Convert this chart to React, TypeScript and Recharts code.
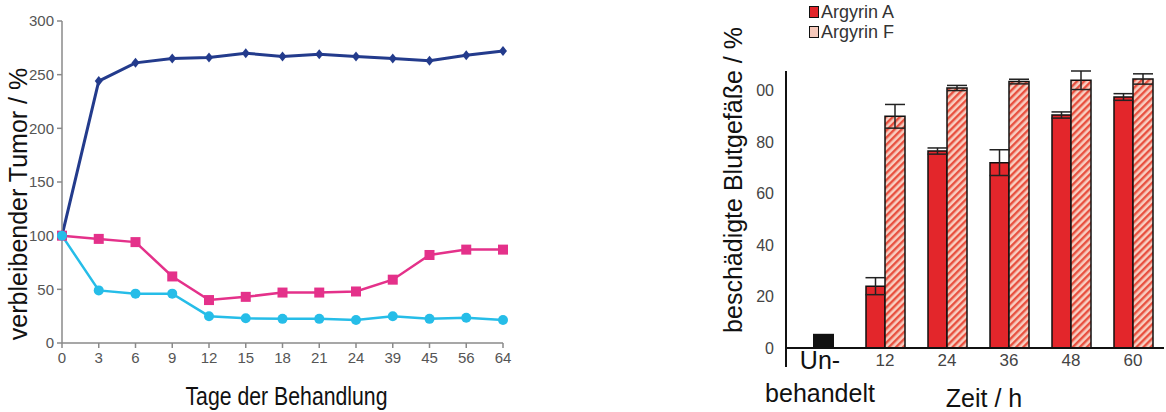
import React from 'react'
import {
  LineChart, Line, BarChart, Bar, XAxis, YAxis, ErrorBar, ReferenceLine, Legend,
} from 'recharts'

// --- left chart: Tumorgröße ---
const days = ['0', '3', '6', '9', '12', '15', '18', '21', '24', '39', '45', '56', '64']
const navySeries = [100, 244, 261, 265, 266, 270, 267, 269, 267, 265, 263, 268, 272]
const pinkSeries = [100, 97, 94, 62, 40, 43, 47, 47, 48, 59, 82, 87, 87]
const cyanSeries = [100, 49, 46, 46, 25, 23, 22.5, 22.5, 21.5, 25, 22.5, 23.5, 21.5]
const leftTicks = [0, 50, 100, 150, 200, 250, 300]

// --- right chart: Blutgefäße ---
const hours = ['Unbehandelt', '12', '24', '36', '48', '60']
const untreated = [5.5, null, null, null, null, null]
const argyrinA = [null, 24, 76.5, 72, 90.5, 97.5]
const argyrinAErr = [null, 3.3, 1.2, 5, 1.2, 1.3]
const argyrinF = [null, 90, 101, 103.5, 104, 104.5]
const argyrinFErr = [null, 4.6, 1, 0.9, 3.6, 2]
const rightTicks = [0, 20, 40, 60, 80, 100]
const rightTickLabels = ['0', '20', '40', '60', '80', '00']

const lineData = days.map((d, i) => ({
  day: d, navy: navySeries[i], pink: pinkSeries[i], cyan: cyanSeries[i],
}))

const barData = hours.map((h, i) => ({
  h, u: untreated[i], a: argyrinA[i], aErr: argyrinAErr[i], f: argyrinF[i], fErr: argyrinFErr[i],
}))

const NARROW = '"Liberation Sans Narrow", "Liberation Sans", Arial, sans-serif'
const SANS = '"Liberation Sans", Arial, sans-serif'

const NAVY = '#233b8c'
const PINK = '#e4318a'
const CYAN = '#26bde8'
const RED = '#e3262b'

const Diamond = (p: any) => {
  const { cx, cy } = p
  if (cx == null || cy == null) return null
  return <path d={`M${cx},${cy - 5}L${cx + 4},${cy}L${cx},${cy + 5}L${cx - 4},${cy}Z`} fill={NAVY} />
}
const Square = (p: any) => {
  const { cx, cy } = p
  if (cx == null || cy == null) return null
  return <rect x={cx - 5} y={cy - 5} width={10} height={10} fill={PINK} />
}
const Circle = (p: any) => {
  const { cx, cy } = p
  if (cx == null || cy == null) return null
  return <circle cx={cx} cy={cy} r={5} fill={CYAN} />
}

const HourTick = (p: any) => {
  const { x, y, payload } = p
  if (payload.value === 'Unbehandelt') {
    return (
      <g>
        <text x={x - 3} y={y - 4} textAnchor="middle" fontFamily={SANS} fontSize={25} fill="#111">Un-</text>
        <text x={x - 3} y={y + 29} textAnchor="middle" fontFamily={SANS} fontSize={25} fill="#111">behandelt</text>
      </g>
    )
  }
  return (
    <text x={x} y={y - 7} textAnchor="middle" fontFamily={SANS} fontSize={17} fill="#444">{payload.value}</text>
  )
}

const BarLegend = () => (
  <div style={{ fontFamily: SANS, fontSize: 18, color: '#333', lineHeight: '20px' }}>
    <div style={{ display: 'flex', alignItems: 'center' }}>
      <span style={{ width: 8, height: 10, background: RED, border: '1.5px solid #111', marginRight: 2 }} />
      Argyrin A
    </div>
    <div style={{ display: 'flex', alignItems: 'center' }}>
      <span style={{ width: 8, height: 10, background: '#f6c9bb', border: '1.5px solid #111', marginRight: 2 }} />
      Argyrin F
    </div>
  </div>
)

export default function App() {
  return (
    <div style={{ position: 'absolute', left: 0, top: 0, width: 1166, height: 412, background: '#fff' }}>
      <div style={{ position: 'absolute', left: 0, top: 0 }}>
        <LineChart width={640} height={412} data={lineData} margin={{ top: 21, right: 137, bottom: 39, left: 22 }}>
          <XAxis
            dataKey="day"
            height={30}
            stroke="#8a8a8a"
            strokeWidth={1.5}
            tickSize={5}
            tick={{ fontFamily: NARROW, fontSize: 15, fill: '#555' }}
            tickMargin={4}
            label={{
              content: (lp: any) => {
                const vb = lp.viewBox
                return (
                  <text x={vb.x + vb.width / 2 + 4} y={vb.y + 62} textAnchor="middle" fontFamily={SANS} fontSize={25}
                    textLength={202} lengthAdjust="spacingAndGlyphs" fill="#111">
                    Tage der Behandlung
                  </text>
                )
              },
            }}
          />
          <YAxis
            domain={[0, 300]}
            ticks={leftTicks}
            width={40}
            stroke="#8a8a8a"
            strokeWidth={1.5}
            tickSize={5}
            tickMargin={3}
            tick={{ fontFamily: NARROW, fontSize: 15, fill: '#555' }}
            label={{
              content: (lp: any) => {
                const vb = lp.viewBox
                const cx = vb.x - 4
                const cy = vb.y + vb.height / 2 + 22
                return (
                  <text x={cx} y={cy} transform={`rotate(-90 ${cx} ${cy})`} textAnchor="middle" dominantBaseline="central" fontFamily={SANS} fontSize={25} fill="#111">
                    verbleibender Tumor / %
                  </text>
                )
              },
            }}
          />
          <Line dataKey="navy" stroke={NAVY} strokeWidth={3} dot={<Diamond />} isAnimationActive={false} />
          <Line dataKey="pink" stroke={PINK} strokeWidth={2.5} dot={<Square />} isAnimationActive={false} />
          <Line dataKey="cyan" stroke={CYAN} strokeWidth={2.5} dot={<Circle />} isAnimationActive={false} />
        </LineChart>
      </div>

      <div style={{ position: 'absolute', left: 690, top: 0 }}>
        <BarChart width={476} height={412} data={barData} margin={{ top: 31, right: 2, bottom: 0, left: 46 }} barGap={0}>
          <defs>
            <pattern id="hatch" width="5" height="5" patternUnits="userSpaceOnUse" patternTransform="rotate(45)">
              <rect width="5" height="5" fill="#f8cfc2" />
              <rect width="2.4" height="5" fill="#e8503f" />
            </pattern>
          </defs>
          <Legend
            verticalAlign="top"
            align="left"
            content={<BarLegend />}
            wrapperStyle={{ position: 'absolute', left: 119, top: 2, width: 120 }}
          />
          <XAxis
            dataKey="h"
            height={45}
            padding={{ left: 6, right: 0 }}
            axisLine={false}
            tickLine={false}
            tickMargin={0}
            tick={<HourTick />}
            label={{
              content: (lp: any) => {
                const vb = lp.viewBox
                return (
                  <text x={vb.x + 198} y={vb.y + 40} textAnchor="middle" fontFamily={SANS} fontSize={25} fill="#111">
                    Zeit / h
                  </text>
                )
              },
            }}
          />
          <XAxis xAxisId="u" dataKey="h" hide padding={{ left: 6, right: 0 }} />
          <YAxis
            domain={[-7.4, 106]}
            ticks={rightTicks}
            width={50}
            stroke="#111"
            strokeWidth={2}
            tickLine={false}
            tickMargin={6}
            tickFormatter={(v: number) => rightTickLabels[rightTicks.indexOf(v)] ?? ''}
            tick={{ fontFamily: SANS, fontSize: 16, fill: '#444' }}
            label={{
              content: (lp: any) => {
                const vb = lp.viewBox
                const cx = vb.x - 3
                const cy = vb.y + vb.height / 2 - 39
                return (
                  <text x={cx} y={cy} transform={`rotate(-90 ${cx} ${cy})`} textAnchor="middle" dominantBaseline="central" fontFamily={SANS} fontSize={25} fill="#111">
                    beschädigte Blutgefäße / %
                  </text>
                )
              },
            }}
          />
          <ReferenceLine y={0} stroke="#111" strokeWidth={2} />
          <Bar xAxisId="u" dataKey="u" barSize={21} fill="#111" isAnimationActive={false} />
          <Bar dataKey="a" barSize={19} fill={RED} stroke="#111" strokeWidth={1.5} isAnimationActive={false}>
            <ErrorBar dataKey="aErr" width={10} stroke="#222" strokeWidth={1.5} />
          </Bar>
          <Bar dataKey="f" barSize={20} fill="url(#hatch)" stroke="#111" strokeWidth={1.5} isAnimationActive={false}>
            <ErrorBar dataKey="fErr" width={10} stroke="#222" strokeWidth={1.5} />
          </Bar>
        </BarChart>
      </div>
    </div>
  )
}
